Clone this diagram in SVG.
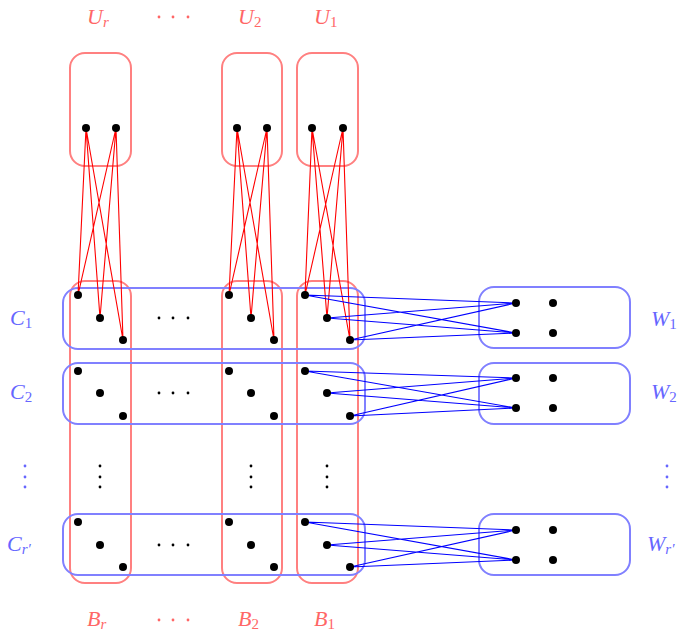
<svg xmlns="http://www.w3.org/2000/svg" width="683" height="632" viewBox="0 0 683 632">
<style>
.rb{fill:none;stroke:#ff8080;stroke-width:2}
.bb{fill:none;stroke:#8080ff;stroke-width:2}
.re{stroke:#ff0000;stroke-width:1.1;fill:none}
.be{stroke:#0000ff;stroke-width:1.1;fill:none}
.d{fill:#000}
.m{font-family:"Liberation Serif",serif;font-style:italic;font-size:22px}
.s{font-size:15px;font-style:normal}
.si{font-size:15px}
.rt{fill:#ff6666}
.bt{fill:#6666ff}
</style>
<rect width="683" height="632" fill="#fff"/>
<g id="boxes">
<g id="Ur"><rect class="rb" x="70" y="53" width="61" height="113" rx="15"/></g>
<g id="U2"><rect class="rb" x="222" y="53" width="60" height="113" rx="15"/></g>
<g id="U1"><rect class="rb" x="297" y="53" width="61" height="113" rx="15"/></g>
<g id="Br"><rect class="rb" x="70" y="281" width="61" height="302" rx="15"/></g>
<g id="B2"><rect class="rb" x="222" y="281" width="60" height="302" rx="15"/></g>
<g id="B1"><rect class="rb" x="297" y="281" width="61" height="302" rx="15"/></g>
<g id="C1"><rect class="bb" x="63" y="288" width="302" height="61" rx="15"/></g>
<g id="C2"><rect class="bb" x="63" y="363" width="302" height="61" rx="15"/></g>
<g id="Cr"><rect class="bb" x="63" y="514" width="302" height="61" rx="15"/></g>
<g id="W1"><rect class="bb" x="479" y="287" width="151" height="61" rx="15"/></g>
<g id="W2"><rect class="bb" x="479" y="363" width="151" height="61" rx="15"/></g>
<g id="Wr"><rect class="bb" x="479" y="514" width="151" height="61" rx="15"/></g>
</g>
<g id="connectors">
<g class="re">
<path d="M86 128L78 295M86 128L100 318M86 128L123 340M116 128L78 295M116 128L100 318M116 128L123 340"/>
<path d="M237 128L229 295M237 128L251 318M237 128L274 340M267 128L229 295M267 128L251 318M267 128L274 340"/>
<path d="M312 128L305 295M312 128L327 318M312 128L350 340M343 128L305 295M343 128L327 318M343 128L350 340"/>
</g>
<g class="be">
<path d="M305 295L516 303M305 295L516 333M327 318L516 303M327 318L516 333M350 340L516 303M350 340L516 333"/>
<path d="M305 371L516 378M305 371L516 408M327 393L516 378M327 393L516 408M350 416L516 378M350 416L516 408"/>
<path d="M305 522L516 530M305 522L516 560M327 545L516 530M327 545L516 560M350 567L516 530M350 567L516 560"/>
</g>
</g>
<g id="dots" class="d">
<circle cx="86" cy="128" r="4"/><circle cx="116" cy="128" r="4"/>
<circle cx="237" cy="128" r="4"/><circle cx="267" cy="128" r="4"/>
<circle cx="312" cy="128" r="4"/><circle cx="343" cy="128" r="4"/>
<circle cx="78" cy="295" r="4"/><circle cx="100" cy="318" r="4"/><circle cx="123" cy="340" r="4"/>
<circle cx="229" cy="295" r="4"/><circle cx="251" cy="318" r="4"/><circle cx="274" cy="340" r="4"/>
<circle cx="305" cy="295" r="4"/><circle cx="327" cy="318" r="4"/><circle cx="350" cy="340" r="4"/>
<circle cx="78" cy="371" r="4"/><circle cx="100" cy="393" r="4"/><circle cx="123" cy="416" r="4"/>
<circle cx="229" cy="371" r="4"/><circle cx="251" cy="393" r="4"/><circle cx="274" cy="416" r="4"/>
<circle cx="305" cy="371" r="4"/><circle cx="327" cy="393" r="4"/><circle cx="350" cy="416" r="4"/>
<circle cx="78" cy="522" r="4"/><circle cx="100" cy="545" r="4"/><circle cx="123" cy="567" r="4"/>
<circle cx="229" cy="522" r="4"/><circle cx="251" cy="545" r="4"/><circle cx="274" cy="567" r="4"/>
<circle cx="305" cy="522" r="4"/><circle cx="327" cy="545" r="4"/><circle cx="350" cy="567" r="4"/>
<circle cx="516" cy="303" r="4"/><circle cx="553" cy="303" r="4"/><circle cx="516" cy="333" r="4"/><circle cx="553" cy="333" r="4"/>
<circle cx="516" cy="378" r="4"/><circle cx="553" cy="378" r="4"/><circle cx="516" cy="408" r="4"/><circle cx="553" cy="408" r="4"/>
<circle cx="516" cy="530" r="4"/><circle cx="553" cy="530" r="4"/><circle cx="516" cy="560" r="4"/><circle cx="553" cy="560" r="4"/>
<circle cx="159" cy="318" r="1.4"/><circle cx="173" cy="318" r="1.4"/><circle cx="188" cy="318" r="1.4"/>
<circle cx="159" cy="393" r="1.4"/><circle cx="173" cy="393" r="1.4"/><circle cx="188" cy="393" r="1.4"/>
<circle cx="159" cy="545" r="1.4"/><circle cx="173" cy="545" r="1.4"/><circle cx="188" cy="545" r="1.4"/>
<circle cx="100" cy="466" r="1.4"/><circle cx="100" cy="477" r="1.4"/><circle cx="100" cy="487" r="1.4"/>
<circle cx="251" cy="466" r="1.4"/><circle cx="251" cy="477" r="1.4"/><circle cx="251" cy="487" r="1.4"/>
<circle cx="327" cy="466" r="1.4"/><circle cx="327" cy="477" r="1.4"/><circle cx="327" cy="487" r="1.4"/>
</g>
<g id="labels">
<g class="rt">
<circle cx="159" cy="17" r="1.4"/><circle cx="173" cy="17" r="1.4"/><circle cx="188" cy="17" r="1.4"/>
<circle cx="159" cy="620" r="1.4"/><circle cx="173" cy="620" r="1.4"/><circle cx="188" cy="620" r="1.4"/>
</g>
<g class="bt">
<circle cx="25" cy="466" r="1.4"/><circle cx="25" cy="477" r="1.4"/><circle cx="25" cy="487" r="1.4"/>
<circle cx="667" cy="466" r="1.4"/><circle cx="667" cy="477" r="1.4"/><circle cx="667" cy="487" r="1.4"/>
</g>
<text class="m rt" x="87" y="24">U<tspan class="si" dy="3">r</tspan></text>
<text class="m rt" x="238" y="24">U<tspan class="s" dy="3">2</tspan></text>
<text class="m rt" x="314" y="24">U<tspan class="s" dy="3">1</tspan></text>
<text class="m rt" x="87" y="626">B<tspan class="si" dy="3">r</tspan></text>
<text class="m rt" x="238" y="626">B<tspan class="s" dy="3">2</tspan></text>
<text class="m rt" x="314" y="626">B<tspan class="s" dy="3">1</tspan></text>
<text class="m bt" x="10" y="325">C<tspan class="s" dy="3">1</tspan></text>
<text class="m bt" x="10" y="399">C<tspan class="s" dy="3">2</tspan></text>
<text class="m bt" x="7" y="551">C<tspan class="si" dy="3">r′</tspan></text>
<text class="m bt" x="651" y="326">W<tspan class="s" dy="3">1</tspan></text>
<text class="m bt" x="651" y="399">W<tspan class="s" dy="3">2</tspan></text>
<text class="m bt" x="647" y="551">W<tspan class="si" dy="3">r′</tspan></text>
</g>
</svg>
